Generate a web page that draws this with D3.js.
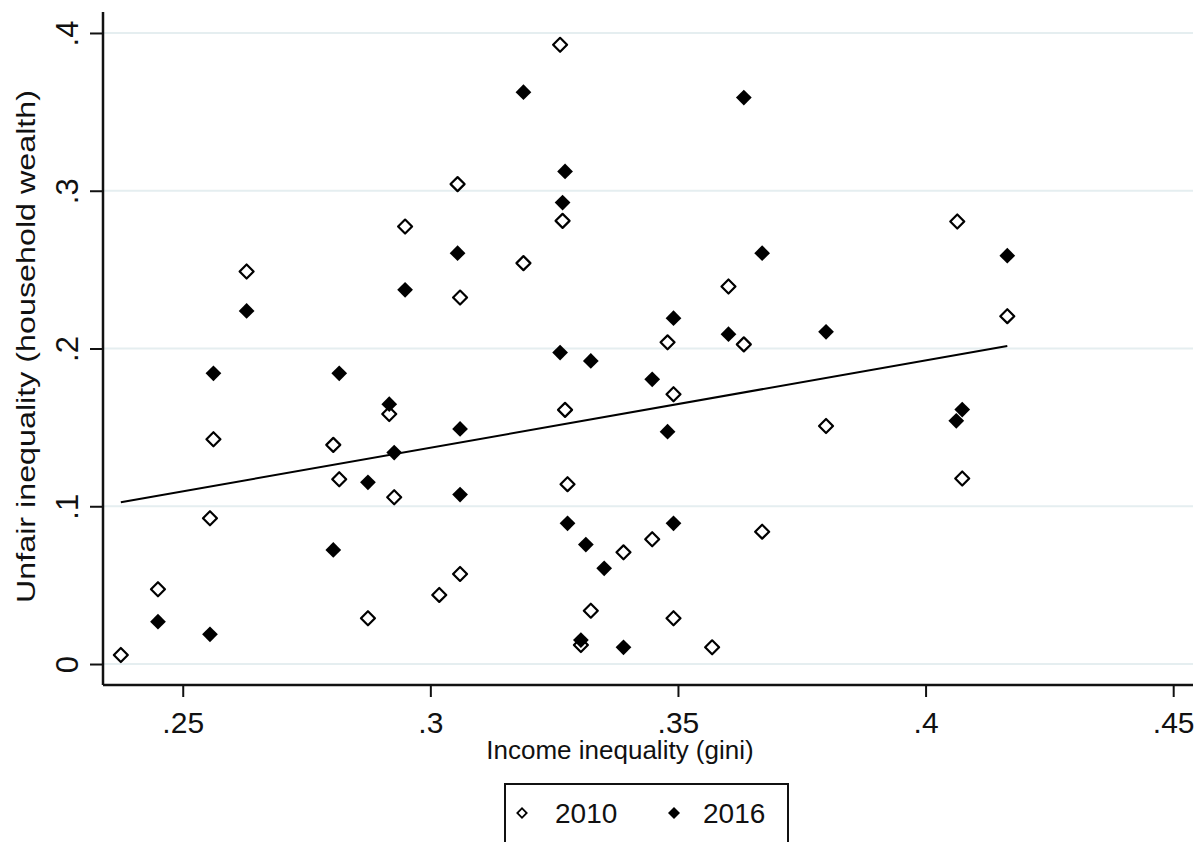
<!DOCTYPE html>
<html>
<head>
<meta charset="utf-8">
<script src="https://cdnjs.cloudflare.com/ajax/libs/d3/7.8.5/d3.min.js"></script>
<style>
  body { margin: 0; background: #ffffff; }
  svg { display: block; }
  text { font-family: "Liberation Sans", Arial, sans-serif; fill: #111111; }
</style>
</head>
<body>
<svg id="chart" width="1202" height="842"></svg>
<script>
// 2010 survey (hollow diamonds)
var x2010 = [0.2375, 0.2450, 0.2562, 0.2555, 0.2629, 0.2804, 0.2816, 0.2874, 0.2917, 0.2927,
             0.2949, 0.3018, 0.3055, 0.3060, 0.3060, 0.3188, 0.3262, 0.3267, 0.3272, 0.3277,
             0.3304, 0.3324, 0.3390, 0.3448, 0.3479, 0.3491, 0.3491, 0.3569, 0.3602, 0.3633,
             0.3670, 0.3799, 0.4064, 0.4074, 0.4165];
var y2010 = [0.0057, 0.0474, 0.1425, 0.0924, 0.2488, 0.1389, 0.1171, 0.0290, 0.1585, 0.1057,
             0.2773, 0.0438, 0.3042, 0.2323, 0.0571, 0.2541, 0.3925, 0.2809, 0.1611, 0.1140,
             0.0120, 0.0338, 0.0708, 0.0791, 0.2039, 0.1710, 0.0290, 0.0106, 0.2393, 0.2026,
             0.0839, 0.1509, 0.2805, 0.1176, 0.2205];

// 2016 survey (filled diamonds)
var x2016 = [0.2450, 0.2555, 0.2562, 0.2629, 0.2804, 0.2816, 0.2874, 0.2917, 0.2927, 0.2949,
             0.3055, 0.3060, 0.3060, 0.3188, 0.3262, 0.3267, 0.3272, 0.3277, 0.3304, 0.3314,
             0.3324, 0.3351, 0.3390, 0.3448, 0.3479, 0.3491, 0.3491, 0.3602, 0.3633, 0.3670,
             0.3799, 0.4062, 0.4074, 0.4165];
var y2016 = [0.0268, 0.0188, 0.1843, 0.2238, 0.0723, 0.1843, 0.1152, 0.1647, 0.1340, 0.2372,
             0.2604, 0.1490, 0.1074, 0.3625, 0.1974, 0.2925, 0.3122, 0.0892, 0.0152, 0.0757,
             0.1921, 0.0607, 0.0106, 0.1805, 0.1473, 0.2192, 0.0892, 0.2091, 0.3591, 0.2604,
             0.2106, 0.1542, 0.1613, 0.2588];

// linear fit line, end points as drawn
var fitX = [0.2375, 0.4165];
var fitY = [0.1025, 0.2016];

var xTicks = [0.25, 0.30, 0.35, 0.40, 0.45];
var xTickLabels = [".25", ".3", ".35", ".4", ".45"];
var yTicks = [0, 0.1, 0.2, 0.3, 0.4];
var yTickLabels = ["0", ".1", ".2", ".3", ".4"];

var seriesNames = ["2010", "2016"];

(function()
{
	var svg = d3.select("#chart");

	var plotLeft = 103, plotRight = 1193, plotTop = 12, plotBottom = 685;

	var x = d3.scaleLinear().domain([0.2339, 0.454]).range([plotLeft, plotRight]);
	var y = d3.scaleLinear().domain([-0.0133, 0.4133]).range([plotBottom, plotTop]);

	// horizontal grid lines
	svg.append("g").selectAll("line")
		.data(yTicks)
		.join("line")
		.attr("x1", plotLeft)
		.attr("x2", plotRight)
		.attr("y1", function(d) { return y(d); })
		.attr("y2", function(d) { return y(d); })
		.attr("stroke", "#e5eef0")
		.attr("stroke-width", 2);

	// axes
	var xAxis = d3.axisBottom(x)
		.tickValues(xTicks)
		.tickSize(12)
		.tickFormat(function(d, i) { return xTickLabels[i]; });
	var gx = svg.append("g")
		.attr("transform", "translate(0," + plotBottom + ")")
		.call(xAxis);
	gx.select(".domain").attr("stroke", "#111").attr("stroke-width", 2.5)
		.attr("d", "M" + plotLeft + ",0H" + plotRight);
	gx.selectAll(".tick line").attr("stroke", "#111").attr("stroke-width", 2);
	gx.selectAll(".tick text")
		.attr("y", 48)
		.attr("dy", 0)
		.style("font-size", "30px")
		.style("font-family", "'Liberation Sans', Arial, sans-serif")
		.attr("fill", "#111");

	var yAxis = d3.axisLeft(y)
		.tickValues(yTicks)
		.tickSize(13)
		.tickFormat(function(d, i) { return yTickLabels[i]; });
	var gy = svg.append("g")
		.attr("transform", "translate(" + plotLeft + ",0)")
		.call(yAxis);
	gy.select(".domain").attr("stroke", "#111").attr("stroke-width", 2.5)
		.attr("d", "M0," + plotTop + "V" + plotBottom);
	gy.selectAll(".tick line").attr("stroke", "#111").attr("stroke-width", 2);
	gy.selectAll(".tick text")
		.attr("x", 0)
		.attr("dy", 0)
		.attr("text-anchor", "middle")
		.attr("transform", "translate(-25,0) rotate(-90)")
		.style("font-size", "31px")
		.style("font-family", "'Liberation Sans', Arial, sans-serif")
		.attr("fill", "#111");

	// axis titles
	svg.append("text")
		.attr("x", 620)
		.attr("y", 759)
		.attr("text-anchor", "middle")
		.style("font-size", "26px")
		.text("Income inequality (gini)");

	svg.append("text")
		.attr("transform", "translate(35,346.5) rotate(-90)")
		.attr("text-anchor", "middle")
		.attr("textLength", 513)
		.attr("lengthAdjust", "spacingAndGlyphs")
		.style("font-size", "26px")
		.text("Unfair inequality (household wealth)");

	// markers
	var hollow = d3.symbol().type(d3.symbolSquare).size(98);
	var filled = d3.symbol().type(d3.symbolSquare).size(124);

	var pts2010 = x2010.map(function(v, i) { return {x: v, y: y2010[i]}; });
	var pts2016 = x2016.map(function(v, i) { return {x: v, y: y2016[i]}; });

	svg.append("g").selectAll("path")
		.data(pts2010)
		.join("path")
		.attr("d", hollow)
		.attr("transform", function(d) { return "translate(" + x(d.x) + "," + y(d.y) + ") rotate(45)"; })
		.attr("fill", "#ffffff")
		.attr("stroke", "#000000")
		.attr("stroke-width", 2.2)
		.attr("stroke-linejoin", "round");

	svg.append("g").selectAll("path")
		.data(pts2016)
		.join("path")
		.attr("d", filled)
		.attr("transform", function(d) { return "translate(" + x(d.x) + "," + y(d.y) + ") rotate(45)"; })
		.attr("fill", "#000000");

	// fit line
	var fitPts = fitX.map(function(v, i) { return [v, fitY[i]]; });
	svg.append("path")
		.datum(fitPts)
		.attr("d", d3.line().x(function(d) { return x(d[0]); }).y(function(d) { return y(d[1]); }))
		.attr("fill", "none")
		.attr("stroke", "#000000")
		.attr("stroke-width", 2);

	// legend
	var legend = svg.append("g");
	legend.append("rect")
		.attr("x", 505)
		.attr("y", 784)
		.attr("width", 283)
		.attr("height", 80)
		.attr("fill", "#ffffff")
		.attr("stroke", "#111")
		.attr("stroke-width", 2);

	var legItems = [
		{name: seriesNames[0], mx: 522, tx: 555, hollow: true},
		{name: seriesNames[1], mx: 674, tx: 703, hollow: false}
	];
	legItems.forEach(function(it)
	{
		legend.append("path")
			.attr("d", d3.symbol().type(d3.symbolSquare).size(it.hollow ? 44 : 72)())
			.attr("transform", "translate(" + it.mx + ",813) rotate(45)")
			.attr("fill", it.hollow ? "#ffffff" : "#000000")
			.attr("stroke", it.hollow ? "#000000" : "none")
			.attr("stroke-width", 1.8);
		legend.append("text")
			.attr("x", it.tx)
			.attr("y", 823)
			.style("font-size", "28px")
			.text(it.name);
	});
})();
</script>
</body>
</html>
